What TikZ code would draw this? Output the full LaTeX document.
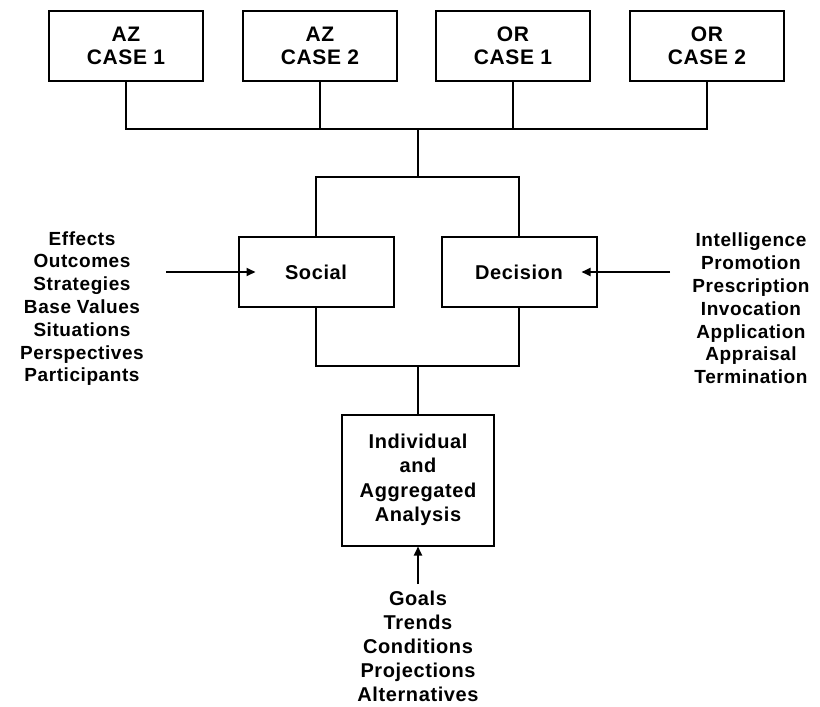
\documentclass[tikz,border=0pt]{standalone}
\usepackage{fontspec}
\setmainfont{Liberation Sans}[LetterSpace=3]
\usetikzlibrary{arrows.meta}
\tikzset{
  box/.style={draw, line width=2pt, inner sep=0pt, align=center, font=\fontsize{20}{22}\selectfont\bfseries},
  topbox/.style={box, minimum width=154pt, minimum height=70pt, font=\fontsize{21}{23}\selectfont\bfseries},
  midbox/.style={box, minimum width=155pt, minimum height=70pt},
  listtxt/.style={align=center, inner sep=0pt, font=\fontsize{19}{22.8}\selectfont\bfseries},
  conn/.style={line width=2pt},
  arr/.style={line width=2pt, -{Triangle[length=9pt,width=8pt]}}
}
\begin{document}
\begin{tikzpicture}[x=1pt,y=-1pt]
\useasboundingbox (0,0) rectangle (820,707);
\node[topbox] (az1) at (126,46) {AZ\\CASE 1};
\node[topbox] (az2) at (320,46) {AZ\\CASE 2};
\node[topbox] (or1) at (513,46) {OR\\CASE 1};
\node[topbox] (or2) at (707,46) {OR\\CASE 2};
\node[midbox] (social) at (316,272) {Social};
\node[midbox] (decision) at (519,272) {Decision};
\node[box, minimum width=152pt, minimum height=131pt, font=\fontsize{20}{24.5}\selectfont\bfseries] (indiv) at (418,480) {Individual\\and\\Aggregated\\Analysis};
\node[listtxt] (left) at (82,308.5) {Effects\\Outcomes\\Strategies\\Base Values\\Situations\\Perspectives\\Participants};
\node[listtxt] (right) at (751,308.5) {Intelligence\\Promotion\\Prescription\\Invocation\\Application\\Appraisal\\Termination};
\node[listtxt, font=\fontsize{20}{24}\selectfont\bfseries] (bottom) at (418,646) {Goals\\Trends\\Conditions\\Projections\\Alternatives};
\coordinate (bus) at (418,129);
\coordinate (topc) at (418,177);
\coordinate (botc) at (418,366);
\coordinate (ls) at (166,272);
\coordinate (rs) at (670,272);
\coordinate (bs) at (418,584);
\draw[conn] (az1.south) |- (bus) -| (or2.south);
\draw[conn] (az2.south) -- (az2.south |- bus);
\draw[conn] (or1.south) -- (or1.south |- bus);
\draw[conn] (bus) -- (topc);
\draw[conn] (social.north) |- (topc) -| (decision.north);
\draw[conn] (social.south) |- (botc) -| (decision.south);
\draw[conn] (botc) -- (indiv.north);
\draw[arr] (ls) -- ([xshift=18pt]social.west);
\draw[arr] (rs) -- ([xshift=-16pt]decision.east);
\draw[arr] (bs) -- (indiv.south);
\end{tikzpicture}
\end{document}
